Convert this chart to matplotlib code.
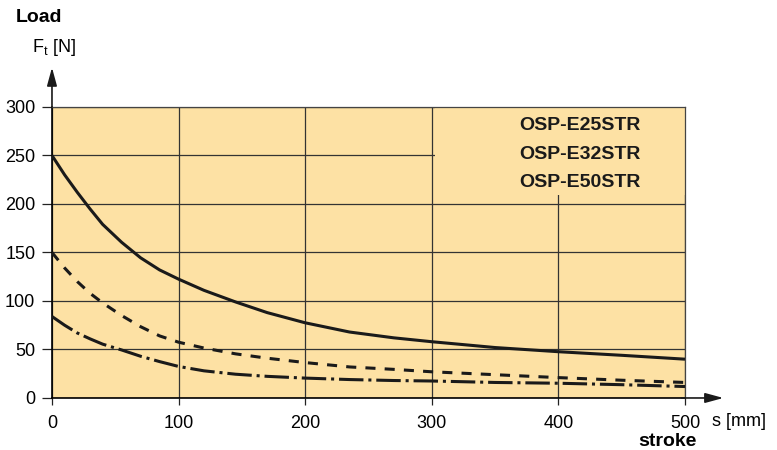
import matplotlib.pyplot as plt
from matplotlib.patches import Rectangle

plt.rcParams['font.family'] = ['Liberation Sans', 'DejaVu Sans']

# stroke s [mm] vs load Ft [N]
stroke = [0, 10, 20, 30, 40, 55, 70, 85, 100, 120, 145, 170, 200, 235, 270, 300, 350, 400, 450, 500]
e25 = [250, 230, 212, 195, 179, 160.5, 144.5, 132, 122.5, 111, 99, 88, 77.5, 68, 62, 58, 52, 47.7, 44, 40]
e32 = [150, 134, 120, 108, 98, 85, 73.5, 64, 57.5, 51.5, 45.5, 41, 36.5, 32, 29.5, 27, 24, 21, 18.3, 16]
e50 = [84, 75, 67, 61, 55.5, 49.5, 43, 37.5, 32.5, 28, 24.5, 22.3, 20.5, 19, 18, 17.5, 16, 15.2, 13.7, 11.8]
models = ['OSP-E25STR', 'OSP-E32STR', 'OSP-E50STR']
xticks = [0, 100, 200, 300, 400, 500]
yticks = [0, 50, 100, 150, 200, 250, 300]

bg = '#FDE1A4'
fig = plt.figure(figsize=(7.77, 4.5), dpi=100)
ax = fig.add_axes([0.0669, 0.1156, 0.8147, 0.6467])
ax.set_facecolor(bg)
ax.set_xlim(0, 500)
ax.set_ylim(0, 300)
ax.set_xticks(xticks)
ax.set_yticks(yticks)
ax.tick_params(labelsize=13, width=0.9, color='#222222')
ax.tick_params(axis='y', length=7, pad=5)
ax.tick_params(axis='x', length=5, pad=7)
ax.grid(True, color='#333333', linewidth=0.9, zorder=1)
ax.set_axisbelow(True)
for s in ['top', 'right']:
    ax.spines[s].set_color('#444444')
    ax.spines[s].set_linewidth(0.9)
for s in ['left', 'bottom']:
    ax.spines[s].set_linewidth(1.2)

# box behind model names hides part of the grid
ax.add_patch(Rectangle((302.5, 209), 197.5, 91, facecolor=bg, edgecolor='none', zorder=2))

ax.plot(stroke, e25, color='#1a1a1a', lw=2.2, solid_capstyle='butt', solid_joinstyle='round', zorder=3)
ax.plot(stroke, e32, color='#1a1a1a', lw=2.2, dashes=(3.3, 3.0), zorder=3)
ax.plot(stroke, e50, color='#1a1a1a', lw=2.2, dashes=(8, 1.6, 1, 1.6), zorder=3)

for i, m in enumerate(models):
    ax.text(417, 281 - i * 29.5, m, ha='center', va='center', fontsize=14,
            fontweight='bold', color='#1a1a1a', zorder=4)

# axis arrows
arrow = dict(arrowstyle='-|>,head_length=1.1,head_width=0.3', color='#1a1a1a', lw=1.2)
ax.annotate('', xy=(0, 1.145), xytext=(0, 0.99), xycoords='axes fraction',
            textcoords='axes fraction', arrowprops=arrow, annotation_clip=False)
ax.annotate('', xy=(1.065, 0), xytext=(0.99, 0), xycoords='axes fraction',
            textcoords='axes fraction', arrowprops=arrow, annotation_clip=False)

fig.text(16 / 777, 1 - 17 / 450, 'Load', fontsize=14, fontweight='bold', va='center')
fig.text(32 / 777, 1 - 47 / 450, r'F$_\mathregular{t}$ [N]', fontsize=13, va='center')
fig.text(712 / 777, 1 - 421 / 450, 's [mm]', fontsize=13, va='center')
fig.text(638 / 777, 1 - 441 / 450, 'stroke', fontsize=14, fontweight='bold', va='center')

fig.savefig('out.png')
